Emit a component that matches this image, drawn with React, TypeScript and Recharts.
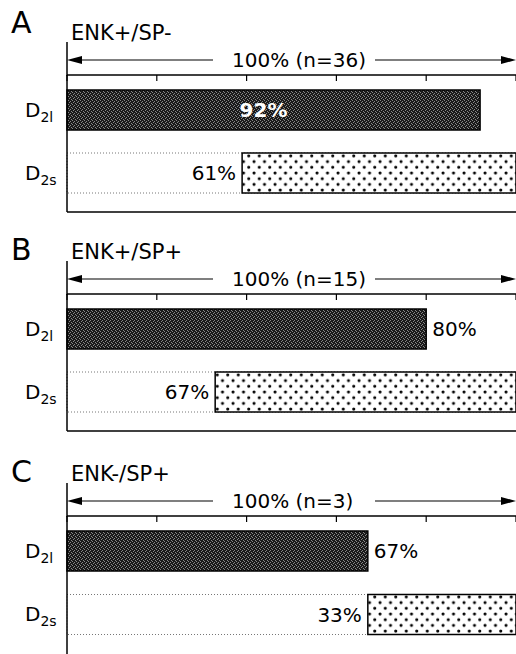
import { Bar, BarChart, Cell, LabelList, XAxis, YAxis } from "recharts";

const rowNames = ["D2l", "D2s"];
const panelLetters = ["A", "B", "C"];
const panelTitles = ["ENK+/SP-", "ENK+/SP+", "ENK-/SP+"];
const panelCounts = [36, 15, 3];
const d2lPercent = [92, 80, 67];
const d2sPercent = [61, 67, 33];
const axisTicks = [0, 20, 40, 60, 80, 100];

const W = 516;
const LEFT = 67;
const AXIS_Y = 76;
const PLOT_H = 136;
const panelTops = [0, 219, 441];
const FONT = "'DejaVu Sans', sans-serif";

// tick marks only, no numbers on the top axis
const NoTickLabel = () => <g />;

function RowTick(props: any) {
  const { y, payload } = props;
  const name: string = payload.value;
  return (
    <text x={25} y={y + 7} fontFamily={FONT} fontSize={20} fill="#000">
      {name.slice(0, 1)}
      <tspan fontSize={14} dy={5}>
        {name.slice(1)}
      </tspan>
    </text>
  );
}

function ValueLabel(props: any) {
  const vb = props.viewBox ?? {};
  const x = vb.x ?? props.x;
  const y = vb.y ?? props.y;
  const width = vb.width ?? props.width;
  const height = vb.height ?? props.height;
  const cy = y + height / 2 + 7;
  const text = `${props.value}%`;
  const common = { fontFamily: FONT, fontSize: 20 };
  if (props.index === 1) {
    return (
      <text x={x - 6} y={cy} textAnchor="end" fill="#000" {...common}>
        {text}
      </text>
    );
  }
  if (props.value >= 90) {
    // no room on the right, label sits inside the bar
    return (
      <text x={x + width / 2 - 10} y={cy} textAnchor="middle" fill="#fff" fontWeight="bold" {...common}>
        {text}
      </text>
    );
  }
  return (
    <text x={x + width + 6} y={cy} textAnchor="start" fill="#000" {...common}>
      {text}
    </text>
  );
}

function Panel({ i }: { i: number }) {
  const rows = rowNames.map((name, r) => {
    const value = r === 0 ? d2lPercent[i] : d2sPercent[i];
    // D2l grows from 0%, D2s is drawn against the 100% end
    return { name, value, lead: r === 0 ? 0 : 100 - value };
  });
  const h = AXIS_Y + PLOT_H + 3;
  const letterY = i === 0 ? 33 : 41;

  return (
    <div style={{ position: "absolute", left: 0, top: panelTops[i], width: W, height: h }}>
      <BarChart
        width={W}
        height={h}
        data={rows}
        layout="vertical"
        barSize={40}
        margin={{ top: AXIS_Y - 1, right: 0, bottom: 2, left: 0 }}
      >
        <defs>
          <pattern id={`dark-${i}`} width="4" height="4" patternUnits="userSpaceOnUse">
            <rect width="4" height="4" fill="#1a1a1a" />
            <rect x="0" y="0" width="1" height="1" fill="#888" />
            <rect x="2" y="1" width="1" height="1" fill="#888" />
            <rect x="1" y="2" width="1" height="1" fill="#888" />
            <rect x="3" y="3" width="1" height="1" fill="#888" />
          </pattern>
          <pattern id={`dots-${i}`} width="10.5" height="11.4" patternUnits="userSpaceOnUse">
            <rect width="10.5" height="11.4" fill="#fff" />
            <circle cx="2" cy="2" r="1.55" fill="#000" />
            <circle cx="7.25" cy="7.7" r="1.55" fill="#000" />
          </pattern>
        </defs>
        <XAxis
          type="number"
          orientation="top"
          domain={[0, 100]}
          ticks={axisTicks}
          height={1}
          mirror
          tick={<NoTickLabel />}
          tickSize={6}
          axisLine={{ stroke: "#000", strokeWidth: 1.5 }}
          tickLine={{ stroke: "#000", strokeWidth: 1.2 }}
        />
        {i < 2 && (
          <XAxis
            xAxisId="bottom"
            type="number"
            orientation="bottom"
            domain={[0, 100]}
            height={1}
            tick={false}
            tickLine={false}
            axisLine={{ stroke: "#000", strokeWidth: 1.5 }}
          />
        )}
        <YAxis
          type="category"
          dataKey="name"
          width={LEFT}
          padding={{ top: 3, bottom: 8 }}
          axisLine={{ stroke: "#000", strokeWidth: 1.5 }}
          tickLine={false}
          tick={<RowTick />}
        />
        <Bar
          dataKey="lead"
          stackId="s"
          fill="transparent"
          isAnimationActive={false}
          background={{ fill: "none", stroke: "#777", strokeDasharray: "1 2" }}
        />
        <Bar dataKey="value" stackId="s" stroke="#000" strokeWidth={1.5} isAnimationActive={false}>
          {rows.map((r, k) => (
            <Cell key={r.name} fill={k === 0 ? `url(#dark-${i})` : `url(#dots-${i})`} />
          ))}
          <LabelList dataKey="value" content={ValueLabel} />
        </Bar>
      </BarChart>
      <svg
        width={W}
        height={h}
        style={{ position: "absolute", left: 0, top: 0, pointerEvents: "none" }}
      >
        <text x={11} y={letterY} fontFamily={FONT} fontSize={30} fill="#000">
          {panelLetters[i]}
        </text>
        <text x={71} y={40} fontFamily={FONT} fontSize={21} fill="#000">
          {panelTitles[i]}
        </text>
        <line x1={LEFT} x2={LEFT} y1={42} y2={AXIS_Y} stroke="#000" strokeWidth={1.5} />
        <line x1={LEFT + 10} x2={213} y1={60} y2={60} stroke="#000" strokeWidth={1.2} />
        <polygon points={`${LEFT},60 ${LEFT + 15},56 ${LEFT + 15},64`} fill="#000" />
        <text x={232} y={67} fontFamily={FONT} fontSize={20} fill="#000">
          {`100% (n=${panelCounts[i]})`}
        </text>
        <line x1={375} x2={W - 10} y1={60} y2={60} stroke="#000" strokeWidth={1.2} />
        <polygon points={`${W},60 ${W - 15},56 ${W - 15},64`} fill="#000" />
      </svg>
    </div>
  );
}

export default function App() {
  return (
    <div style={{ position: "relative", width: W, height: 654, overflow: "hidden", background: "#fff" }}>
      <style>{"body{margin:0}"}</style>
      {panelLetters.map((_, i) => (
        <Panel key={i} i={i} />
      ))}
    </div>
  );
}
